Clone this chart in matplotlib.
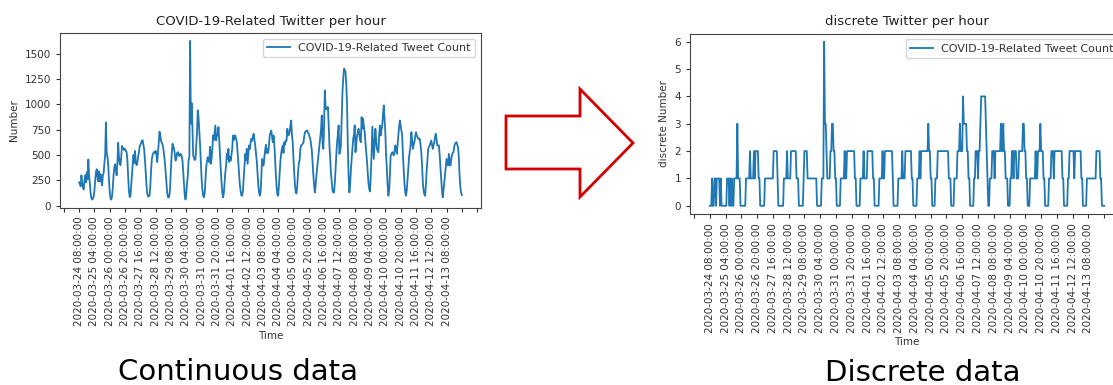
import numpy as np
import matplotlib
matplotlib.use('Agg')
import matplotlib.pyplot as plt
from matplotlib.patches import Polygon

# hourly counts, one row per day (trough to trough)
tweet_count = [
    230, 210, 190, 300, 220, 180, 160, 250, 300, 230, 330, 260, 455, 300, 220, 120, 75, 60, 70,
    90, 150, 250, 330, 360, 280, 240, 340, 240, 310, 240, 200, 300, 320, 420, 500, 820, 520, 480, 400, 250, 130, 70, 60,
    90, 180, 300, 380, 410, 350, 300, 420, 620, 480, 420, 400, 480, 590, 570, 560, 550, 560, 540, 530, 450, 300, 150, 85,
    90, 200, 320, 410, 500, 420, 540, 430, 400, 420, 480, 520, 580, 600, 620, 640, 645, 600, 550, 450, 330, 200, 120, 90, 90,
    100, 200, 350, 460, 500, 520, 530, 520, 540, 500, 430, 520, 620, 730, 690, 640, 620, 600, 560, 500, 430, 330, 220, 130, 85, 80,
    100, 200, 380, 520, 610, 590, 560, 510, 445, 470, 520, 527, 500, 490, 511, 505, 490, 445, 330, 200, 100, 60,
    120, 220, 300, 450, 480, 1625, 810, 1010, 780, 495, 470, 450, 461, 600, 724, 940, 870, 740, 600, 430, 263, 160, 100, 82,
    120, 250, 380, 440, 478, 450, 430, 580, 412, 461, 560, 692, 650, 720, 791, 643, 692, 700, 775, 650, 500, 363, 230, 130, 82,
    120, 220, 330, 395, 511, 460, 560, 430, 480, 445, 500, 560, 692, 650, 680, 692, 660, 626, 530, 420, 300, 200, 140, 100, 98,
    150, 280, 395, 511, 450, 560, 412, 500, 594, 560, 620, 659, 640, 680, 709, 650, 594, 520, 445, 330, 210, 130, 98,
    130, 280, 461, 430, 395, 480, 545, 600, 520, 560, 520, 600, 692, 720, 741, 680, 626, 692, 600, 461, 300, 180, 110, 98,
    200, 330, 445, 520, 560, 594, 520, 626, 600, 643, 643, 758, 692, 700, 725, 790, 840, 700, 626, 461, 320, 200, 130, 120,
    200, 330, 420, 445, 560, 594, 600, 610, 620, 680, 725, 730, 741, 741, 720, 709, 680, 659, 600, 545, 420, 300, 200, 130,
    200, 300, 380, 450, 527, 600, 692, 750, 890, 620, 560, 800, 1137, 973, 950, 960, 973, 800, 594, 450, 320, 232, 150, 130,
    130, 220, 363, 500, 626, 700, 791, 511, 540, 594, 850, 1120, 1250, 1351, 1340, 1318, 1200, 1000, 594, 300, 130,
    200, 350, 461, 560, 659, 700, 791, 527, 600, 692, 720, 758, 700, 650, 626, 873, 760, 857, 780, 725, 620, 530, 445, 330, 220, 164,
    140, 300, 495, 780, 626, 461, 600, 758, 650, 560, 540, 527, 700, 790, 692, 750, 790, 900, 989, 850, 725, 500, 363, 200, 98,
    150, 300, 495, 510, 527, 510, 495, 540, 594, 560, 511, 600, 692, 780, 840, 791, 740, 692, 500, 363, 220, 130, 98,
    150, 250, 363, 480, 540, 594, 725, 650, 560, 600, 626, 680, 725, 692, 680, 659, 660, 659, 600, 527, 400, 232, 150, 110, 98,
    200, 350, 445, 560, 580, 594, 620, 643, 600, 560, 600, 626, 680, 709, 650, 594, 594, 594, 500, 380, 263, 150, 82,
    150, 230, 300, 400, 461, 430, 395, 511, 450, 395, 450, 495, 520, 527, 580, 610, 620, 626, 600, 577, 480, 300, 180, 130, 105,
]

# discrete level per hour, same rows
discrete_count = [
    0, 0, 0, 1, 0, 0, 1, 1, 0, 1, 1, 1, 1, 0, 1, 0, 0, 0, 0,
    0, 0, 0, 1, 1, 1, 0, 1, 0, 1, 0, 0, 1, 1, 1, 1, 3, 1, 1, 1, 0, 0, 0, 0,
    0, 0, 0, 1, 1, 1, 1, 1, 2, 1, 1, 1, 1, 2, 1, 2, 2, 2, 2, 1, 1, 0, 0, 0,
    0, 0, 0, 1, 1, 1, 1, 1, 1, 1, 1, 1, 1, 1, 2, 2, 2, 2, 2, 1, 0, 0, 0, 0, 0,
    0, 0, 1, 1, 1, 1, 2, 1, 1, 1, 1, 2, 2, 2, 2, 2, 2, 2, 1, 1, 1, 0, 0, 0, 0, 0,
    0, 1, 2, 2, 2, 2, 1, 1, 1, 1, 1, 1, 1, 1, 1, 1, 1, 1, 0, 0, 0, 0,
    0, 0, 1, 1, 1, 6, 3, 3, 2, 1, 1, 1, 1, 2, 2, 3, 3, 2, 2, 1, 1, 0, 0, 0,
    0, 0, 1, 1, 1, 1, 1, 2, 1, 1, 2, 2, 2, 2, 2, 2, 2, 2, 2, 2, 1, 1, 0, 0, 0,
    0, 0, 1, 1, 1, 1, 2, 1, 1, 1, 1, 2, 2, 2, 2, 2, 2, 2, 1, 1, 0, 0, 0, 0, 0,
    0, 1, 1, 1, 1, 2, 1, 1, 2, 2, 2, 2, 2, 2, 2, 2, 2, 2, 1, 0, 0, 0, 0,
    0, 0, 1, 1, 1, 1, 1, 2, 1, 1, 1, 2, 2, 2, 2, 2, 2, 2, 2, 1, 1, 0, 0, 0,
    0, 0, 1, 1, 1, 2, 1, 2, 2, 2, 2, 2, 2, 2, 2, 2, 3, 2, 2, 1, 1, 0, 0, 0,
    0, 1, 1, 1, 2, 2, 2, 2, 2, 2, 2, 2, 2, 2, 2, 2, 2, 2, 1, 1, 1, 0, 0, 0,
    0, 1, 1, 1, 1, 2, 2, 2, 3, 2, 2, 2, 4, 3, 3, 3, 3, 2, 2, 1, 1, 0, 0, 0,
    0, 0, 1, 1, 2, 2, 2, 1, 2, 2, 3, 4, 4, 4, 4, 4, 4, 3, 2, 1, 0,
    0, 1, 1, 1, 2, 2, 2, 1, 2, 2, 2, 2, 2, 2, 2, 3, 2, 2, 3, 2, 2, 1, 1, 1, 0, 0,
    0, 1, 1, 2, 2, 1, 2, 2, 2, 1, 1, 1, 2, 2, 2, 2, 2, 3, 3, 2, 2, 1, 1, 0, 0,
    0, 1, 1, 1, 1, 1, 1, 1, 2, 1, 1, 2, 2, 2, 3, 2, 2, 2, 1, 1, 0, 0, 0,
    0, 0, 1, 1, 1, 2, 2, 2, 1, 2, 2, 2, 2, 2, 2, 2, 2, 2, 2, 1, 1, 0, 0, 0, 0,
    0, 1, 1, 2, 2, 2, 2, 2, 2, 1, 2, 2, 2, 2, 2, 2, 2, 2, 1, 1, 0, 0, 0,
    0, 0, 1, 1, 1, 1, 1, 1, 1, 1, 1, 1, 1, 1, 2, 2, 2, 2, 2, 1, 1, 0, 0, 0, 0,
]

tick_labels = [
    '2020-03-24 08:00:00', '2020-03-25 04:00:00', '2020-03-26 00:00:00', '2020-03-26 20:00:00',
    '2020-03-27 16:00:00', '2020-03-28 12:00:00', '2020-03-29 08:00:00', '2020-03-30 04:00:00',
    '2020-03-31 00:00:00', '2020-03-31 20:00:00', '2020-04-01 16:00:00', '2020-04-02 12:00:00',
    '2020-04-03 08:00:00', '2020-04-04 04:00:00', '2020-04-05 00:00:00', '2020-04-05 20:00:00',
    '2020-04-06 16:00:00', '2020-04-07 12:00:00', '2020-04-08 08:00:00', '2020-04-09 04:00:00',
    '2020-04-10 00:00:00', '2020-04-10 20:00:00', '2020-04-11 16:00:00', '2020-04-12 12:00:00',
    '2020-04-13 08:00:00',
]

W, H = 1113, 385

def frac(x0, y0, x1, y1):
    # pixel box (top-left origin) -> figure fraction rect
    return [x0 / W, 1 - y1 / H, (x1 - x0) / W, (y1 - y0) / H]

fig = plt.figure(figsize=(W / 100, H / 100), dpi=100)

# tick every 20 hours, only the ones inside the data get a label
tick_pos = np.arange(-20, 521, 20)
labels = [''] + tick_labels + [''] * (len(tick_pos) - len(tick_labels) - 1)

def draw(ax, values, title, ylabel):
    x = np.arange(len(values))
    ax.plot(x, values, color='#1f77b4', lw=1.3, label='COVID-19-Related Tweet Count')
    ax.set_xticks(tick_pos)
    ax.set_xticklabels(labels, rotation=90)
    ax.tick_params(labelsize=7.5, length=3, colors='#333333')
    for s in ax.spines.values():
        s.set_color('#444444')
    ax.set_title(title, fontsize=9.5, color='#222222')
    ax.set_xlabel('Time', fontsize=7.5, labelpad=3, color='#333333')
    ax.set_ylabel(ylabel, fontsize=7.5, color='#333333')
    leg = ax.legend(loc='upper right', fontsize=8)
    for t in leg.get_texts():
        t.set_color('#333333')

ax1 = fig.add_axes(frac(60, 33, 481, 207.5))
draw(ax1, tweet_count, 'COVID-19-Related Twitter per hour', 'Number')

ax2 = fig.add_axes(frac(690, 33.5, 1124, 214))
draw(ax2, discrete_count, 'discrete Twitter per hour', 'discrete Number')

# red outline arrow between the two charts
arrow_px = [(506, 116), (580, 116), (580, 89), (633, 143), (580, 197), (580, 169), (506, 169)]
arrow = Polygon([(x / W, 1 - y / H) for x, y in arrow_px], closed=True,
                transform=fig.transFigure, facecolor='white', edgecolor='#d40000', lw=2)
fig.patches.append(arrow)

fig.text(238 / W, 1 - 372 / H, 'Continuous data', ha='center', va='center', fontsize=21)
fig.text(923 / W, 1 - 373 / H, 'Discrete data', ha='center', va='center', fontsize=21)

fig.savefig('out.png', dpi=100)
